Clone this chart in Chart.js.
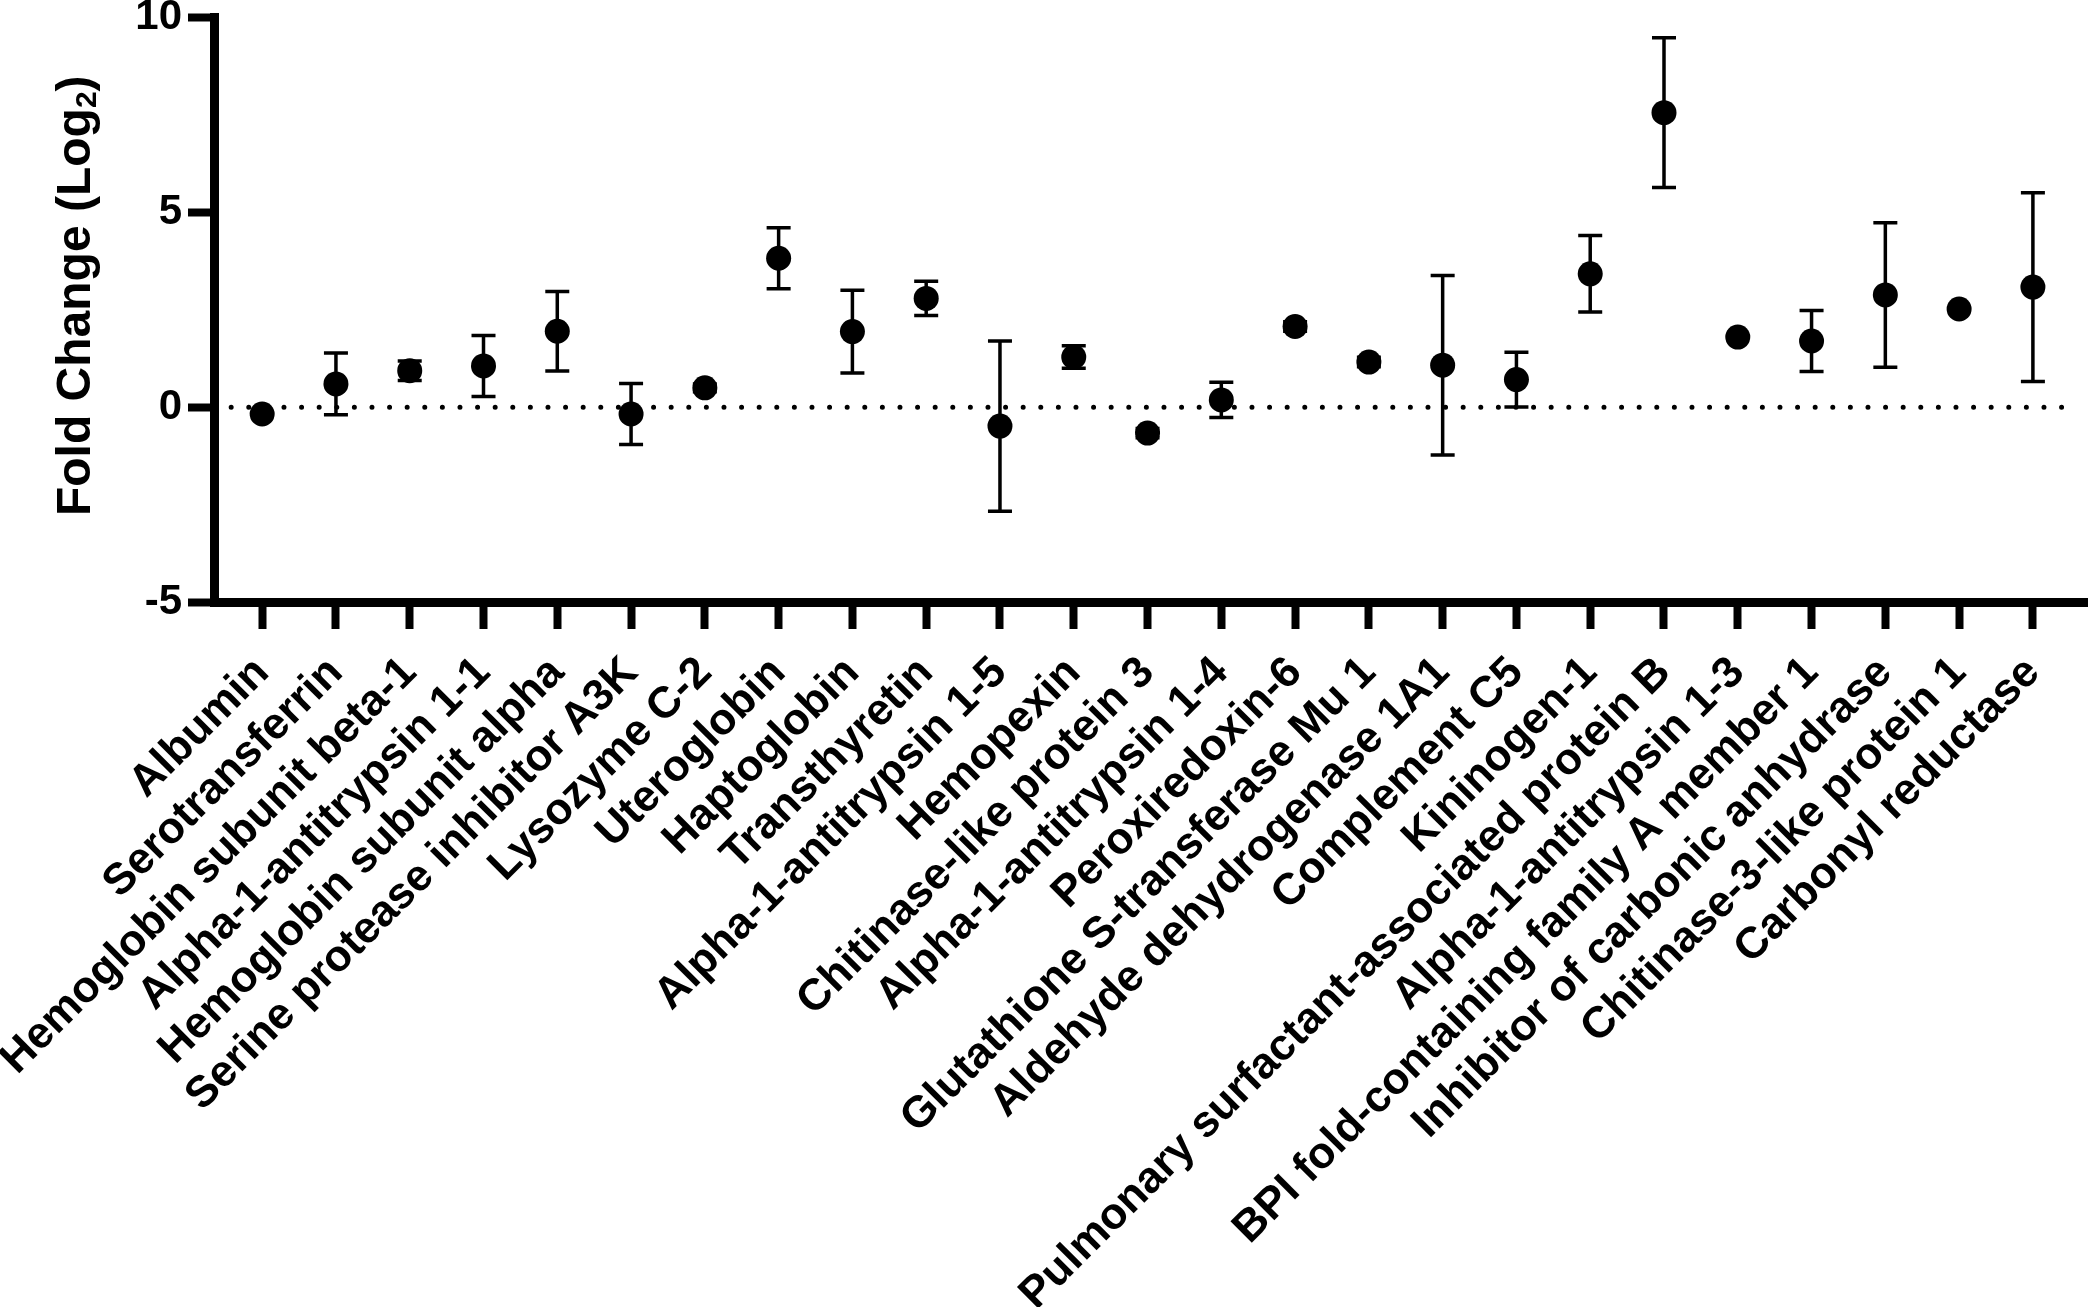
<!DOCTYPE html>
<html>
<head>
<meta charset="utf-8">
<script src="https://cdn.jsdelivr.net/npm/chart.js@4/dist/chart.umd.min.js"></script>
<style>
  html, body { margin: 0; padding: 0; background: #ffffff; }
  #wrap { width: 2100px; height: 1307px; position: relative; }
</style>
</head>
<body>
<div id="wrap"><canvas id="chart"></canvas></div>
<script>
// ---- data ----
const categories = [
  "Albumin",
  "Serotransferrin",
  "Hemoglobin subunit beta-1",
  "Alpha-1-antitrypsin 1-1",
  "Hemoglobin subunit alpha",
  "Serine protease inhibitor A3K",
  "Lysozyme C-2",
  "Uteroglobin",
  "Haptoglobin",
  "Transthyretin",
  "Alpha-1-antitrypsin 1-5",
  "Hemopexin",
  "Chitinase-like protein 3",
  "Alpha-1-antitrypsin 1-4",
  "Peroxiredoxin-6",
  "Glutathione S-transferase Mu 1",
  "Aldehyde dehydrogenase 1A1",
  "Complement C5",
  "Kininogen-1",
  "Pulmonary surfactant-associated protein B",
  "Alpha-1-antitrypsin 1-3",
  "BPI fold-containing family A member 1",
  "Inhibitor of carbonic anhydrase",
  "Chitinase-3-like protein 1",
  "Carbonyl reductase"
];
const foldChange = [-0.17, 0.60, 0.94, 1.06, 1.95, -0.17, 0.50, 3.82, 1.94, 2.79,
                    -0.48, 1.29, -0.66, 0.19, 2.07, 1.16, 1.08, 0.71, 3.42, 7.55,
                    1.80, 1.70, 2.88, 2.52, 3.08];
const errorSD   = [0.00, 0.79, 0.25, 0.78, 1.02, 0.78, 0.10, 0.78, 1.06, 0.44,
                    2.18, 0.29, 0.12, 0.45, 0.12, 0.12, 2.30, 0.70, 0.98, 1.92,
                    0.00, 0.78, 1.85, 0.00, 2.42];
const yTickValues = [-5, 0, 5, 10];
const yTitleMain = "Fold Change (Log";
const yTitleSub = "2";
const yTitleEnd = ")";

// ---- styling ----
const FONT = "'Liberation Sans', Arial, Helvetica, sans-serif";
const INK = "#000000";

const errorBarPlugin = {
  id: 'errorBars',
  beforeDatasetsDraw(chart) {
    const xs = chart.scales.x, ys = chart.scales.y;
    const ctx = chart.ctx;
    ctx.save();
    ctx.strokeStyle = INK;
    ctx.lineWidth = 3.5;
    ctx.lineCap = 'butt';
    foldChange.forEach((m, i) => {
      const sd = errorSD[i];
      if (!sd) return;
      const x = xs.getPixelForValue(i);
      const yt = ys.getPixelForValue(m + sd);
      const yb = ys.getPixelForValue(m - sd);
      const hw = 12;
      ctx.beginPath();
      ctx.moveTo(x, yt); ctx.lineTo(x, yb);
      ctx.moveTo(x - hw, yt); ctx.lineTo(x + hw, yt);
      ctx.moveTo(x - hw, yb); ctx.lineTo(x + hw, yb);
      ctx.stroke();
    });
    ctx.restore();
  }
};

// y-axis title with a true subscript
const yTitlePlugin = {
  id: 'yTitle',
  afterDraw(chart) {
    const ctx = chart.ctx;
    const ys = chart.scales.y;
    const big = "bold 48px " + FONT;
    const small = "bold 30px " + FONT;
    ctx.save();
    ctx.font = big;
    const w1 = ctx.measureText(yTitleMain).width;
    const w3 = ctx.measureText(yTitleEnd).width;
    ctx.font = small;
    const w2 = ctx.measureText(yTitleSub).width;
    const total = w1 + w2 + w3;
    const cy = (ys.top + ys.bottom) / 2 - 14;
    ctx.translate(77, cy);
    ctx.rotate(-Math.PI / 2);
    ctx.fillStyle = INK;
    ctx.textAlign = 'left';
    ctx.textBaseline = 'middle';
    let x = -total / 2;
    ctx.font = big;
    ctx.fillText(yTitleMain, x, 0);
    x += w1;
    ctx.font = small;
    ctx.fillText(yTitleSub, x, 11);
    x += w2;
    ctx.font = big;
    ctx.fillText(yTitleEnd, x, 0);
    ctx.restore();
  }
};

new Chart(document.getElementById('chart'), {
  type: 'scatter',
  data: {
    datasets: [
      {
        type: 'line',
        data: [{x: -0.42, y: 0}, {x: 24.5, y: 0}],
        borderColor: INK,
        borderWidth: 5,
        borderDash: [0, 17.6],
        borderCapStyle: 'round',
        pointRadius: 0,
        fill: false,
        order: 2
      },
      {
        data: foldChange.map((v, i) => ({x: i, y: v})),
        backgroundColor: INK,
        borderColor: INK,
        borderWidth: 0,
        pointRadius: 12.5,
        pointHoverRadius: 12.5,
        order: 1
      }
    ]
  },
  options: {
    responsive: true,
    maintainAspectRatio: false,
    animation: false,
    devicePixelRatio: 1,
    layout: { padding: { top: 17, left: 0, right: 0, bottom: 0 } },
    plugins: { legend: { display: false }, tooltip: { enabled: false } },
    scales: {
      x: {
        type: 'linear',
        min: -0.646,
        max: 24.74,
        afterBuildTicks(scale) { scale.ticks = categories.map((c, i) => ({ value: i })); },
        afterFit(scale) { scale.height = 704.5; scale.paddingLeft = 0; scale.paddingRight = 0; },
        border: { display: true, color: INK, width: 9 },
        grid: { display: true, drawOnChartArea: false, drawTicks: true, tickLength: 26.5, tickWidth: 8, tickColor: INK },
        ticks: {
          autoSkip: false,
          maxRotation: 45,
          minRotation: 45,
          padding: 18,
          color: INK,
          font: { family: FONT, size: 44, weight: 'bold' },
          callback: (v, i) => categories[i]
        }
      },
      y: {
        type: 'linear',
        min: -5,
        max: 10,
        afterBuildTicks(scale) { scale.ticks = yTickValues.map(v => ({ value: v })); },
        afterFit(scale) { scale.width = 214.5; scale.paddingTop = 0; scale.paddingBottom = 0; },
        border: { display: true, color: INK, width: 9 },
        grid: { display: true, drawOnChartArea: false, drawTicks: true, tickLength: 26.5, tickWidth: 8, tickColor: INK },
        ticks: {
          padding: 6,
          color: INK,
          font: { family: FONT, size: 42, weight: 'bold' }
        },
        title: { display: false }
      }
    }
  },
  plugins: [errorBarPlugin, yTitlePlugin]
});
</script>
</body>
</html>
